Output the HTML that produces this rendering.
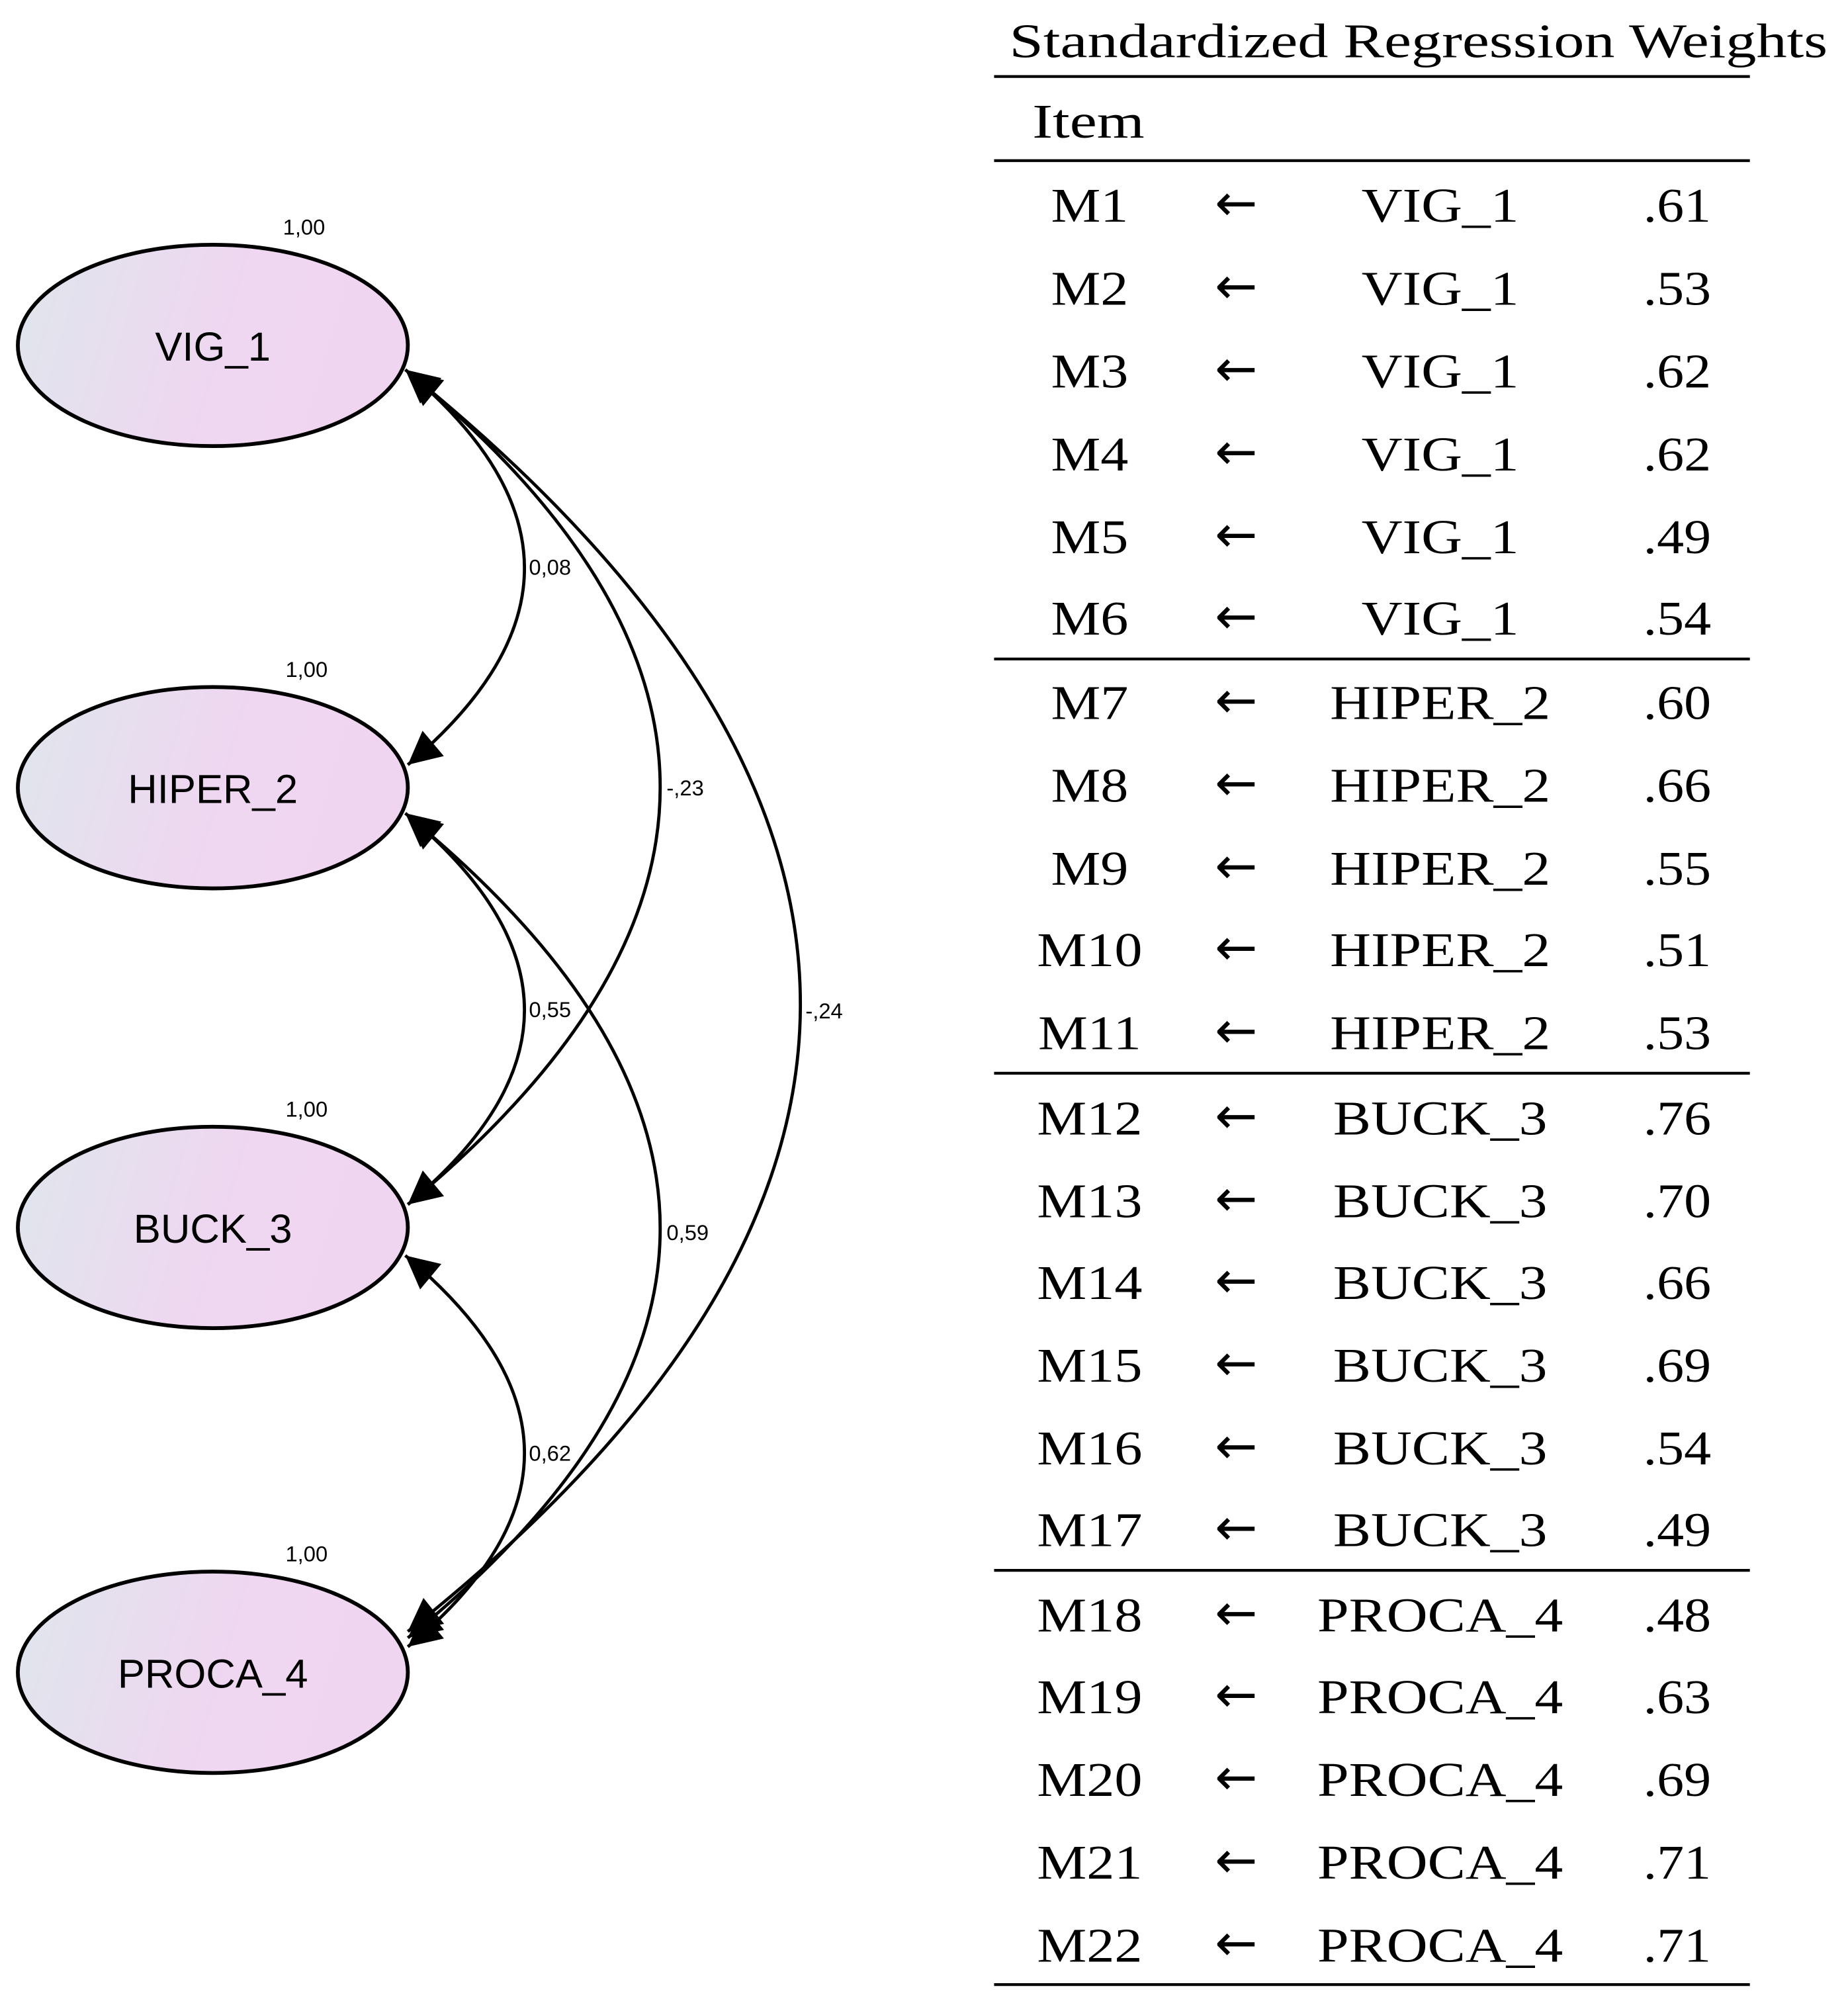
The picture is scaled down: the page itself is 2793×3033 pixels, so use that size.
<!DOCTYPE html>
<html><head><meta charset="utf-8">
<style>
html,body{margin:0;padding:0;background:#fff;}
svg{display:block;}
</style></head>
<body>
<svg width="2793" height="3033" viewBox="0 0 1450 1574.6" preserveAspectRatio="none" xmlns="http://www.w3.org/2000/svg">
<defs>
<linearGradient id="g" x1="0" y1="0" x2="1" y2="0.15">
<stop offset="0" stop-color="#dfe6ec"/>
<stop offset="0.6" stop-color="#efd6f1"/>
<stop offset="1" stop-color="#f0d5f1"/>
</linearGradient>
<marker id="a" viewBox="0 0 10 10" refX="10" refY="5" markerWidth="40" markerHeight="26" markerUnits="userSpaceOnUse" orient="auto-start-reverse">
<path d="M0,0 L10,5 L0,10 z" fill="#000"/>
</marker>
</defs>
<g font-family="Liberation Sans, Arial, sans-serif" fill="#000">
<g stroke="#000" stroke-width="3" fill="url(#g)">
<ellipse cx="167" cy="271" rx="153" ry="79"/>
<ellipse cx="167" cy="618" rx="153" ry="79"/>
<ellipse cx="167" cy="963" rx="153" ry="79"/>
<ellipse cx="167" cy="1312" rx="153" ry="79"/>
</g>
<g font-size="32" text-anchor="middle">
<text x="167" y="283">VIG_1</text>
<text x="167" y="630">HIPER_2</text>
<text x="167" y="975">BUCK_3</text>
<text x="167" y="1324">PROCA_4</text>
</g>
<g font-size="17">
<text x="222" y="184">1,00</text>
<text x="224" y="531">1,00</text>
<text x="224" y="876">1,00</text>
<text x="224" y="1225">1,00</text>
<text x="415" y="451">0,08</text>
<text x="523" y="624">-,23</text>
<text x="632" y="799">-,24</text>
<text x="415" y="798">0,55</text>
<text x="523" y="973">0,59</text>
<text x="415" y="1146">0,62</text>
</g>
<g stroke="#000" stroke-width="2.5" fill="none" marker-start="url(#a)" marker-end="url(#a)">
<path d="M318,290 Q504,445 320,600"/>
<path d="M320,292 Q716,617 320,945"/>
<path d="M320,292 Q936,790 320,1280"/>
<path d="M318,638 Q504,792 320,945"/>
<path d="M320,640 Q716,965 320,1285"/>
<path d="M318,985 Q504,1140 320,1292"/>
</g>
</g>
<g font-family="Liberation Serif, 'Times New Roman', serif" fill="#000" font-size="38">
<text x="792" y="45" textLength="642" lengthAdjust="spacingAndGlyphs">Standardized Regression Weights</text>
<text x="810" y="108" textLength="88" lengthAdjust="spacingAndGlyphs">Item</text>
<g stroke="#000" stroke-width="2.2">
<line x1="780" y1="60" x2="1373" y2="60"/>
<line x1="780" y1="126" x2="1373" y2="126"/>
<line x1="780" y1="517" x2="1373" y2="517"/>
<line x1="780" y1="842" x2="1373" y2="842"/>
<line x1="780" y1="1232" x2="1373" y2="1232"/>
<line x1="780" y1="1557" x2="1373" y2="1557"/>
</g>
<g text-anchor="middle" transform="translate(855,0) scale(1.15,1)">
<text x="0" y="174">M1</text><text x="0" y="239">M2</text><text x="0" y="304">M3</text><text x="0" y="369">M4</text><text x="0" y="434">M5</text><text x="0" y="498">M6</text>
<text x="0" y="564">M7</text><text x="0" y="629">M8</text><text x="0" y="694">M9</text><text x="0" y="758">M10</text><text x="0" y="823">M11</text>
<text x="0" y="890">M12</text><text x="0" y="955">M13</text><text x="0" y="1019">M14</text><text x="0" y="1084">M15</text><text x="0" y="1149">M16</text><text x="0" y="1213">M17</text>
<text x="0" y="1280">M18</text><text x="0" y="1344">M19</text><text x="0" y="1409">M20</text><text x="0" y="1474">M21</text><text x="0" y="1539">M22</text>
</g>
<g text-anchor="middle" font-family="DejaVu Sans, sans-serif" font-size="40" transform="translate(970,0)">
<text x="0" y="173">←</text><text x="0" y="238">←</text><text x="0" y="303">←</text><text x="0" y="368">←</text><text x="0" y="433">←</text><text x="0" y="497">←</text>
<text x="0" y="563">←</text><text x="0" y="628">←</text><text x="0" y="693">←</text><text x="0" y="757">←</text><text x="0" y="822">←</text>
<text x="0" y="889">←</text><text x="0" y="954">←</text><text x="0" y="1018">←</text><text x="0" y="1083">←</text><text x="0" y="1148">←</text><text x="0" y="1212">←</text>
<text x="0" y="1279">←</text><text x="0" y="1343">←</text><text x="0" y="1408">←</text><text x="0" y="1473">←</text><text x="0" y="1538">←</text>
</g>
<g text-anchor="middle" transform="translate(1130,0) scale(1.17,1)">
<text x="0" y="174">VIG_1</text><text x="0" y="239">VIG_1</text><text x="0" y="304">VIG_1</text><text x="0" y="369">VIG_1</text><text x="0" y="434">VIG_1</text><text x="0" y="498">VIG_1</text>
<text x="0" y="564">HIPER_2</text><text x="0" y="629">HIPER_2</text><text x="0" y="694">HIPER_2</text><text x="0" y="758">HIPER_2</text><text x="0" y="823">HIPER_2</text>
<text x="0" y="890">BUCK_3</text><text x="0" y="955">BUCK_3</text><text x="0" y="1019">BUCK_3</text><text x="0" y="1084">BUCK_3</text><text x="0" y="1149">BUCK_3</text><text x="0" y="1213">BUCK_3</text>
<text x="0" y="1280">PROCA_4</text><text x="0" y="1344">PROCA_4</text><text x="0" y="1409">PROCA_4</text><text x="0" y="1474">PROCA_4</text><text x="0" y="1539">PROCA_4</text>
</g>
<g text-anchor="middle" transform="translate(1316,0) scale(1.12,1)">
<text x="0" y="174">.61</text><text x="0" y="239">.53</text><text x="0" y="304">.62</text><text x="0" y="369">.62</text><text x="0" y="434">.49</text><text x="0" y="498">.54</text>
<text x="0" y="564">.60</text><text x="0" y="629">.66</text><text x="0" y="694">.55</text><text x="0" y="758">.51</text><text x="0" y="823">.53</text>
<text x="0" y="890">.76</text><text x="0" y="955">.70</text><text x="0" y="1019">.66</text><text x="0" y="1084">.69</text><text x="0" y="1149">.54</text><text x="0" y="1213">.49</text>
<text x="0" y="1280">.48</text><text x="0" y="1344">.63</text><text x="0" y="1409">.69</text><text x="0" y="1474">.71</text><text x="0" y="1539">.71</text>
</g>
</g>
</svg>
</body></html>
